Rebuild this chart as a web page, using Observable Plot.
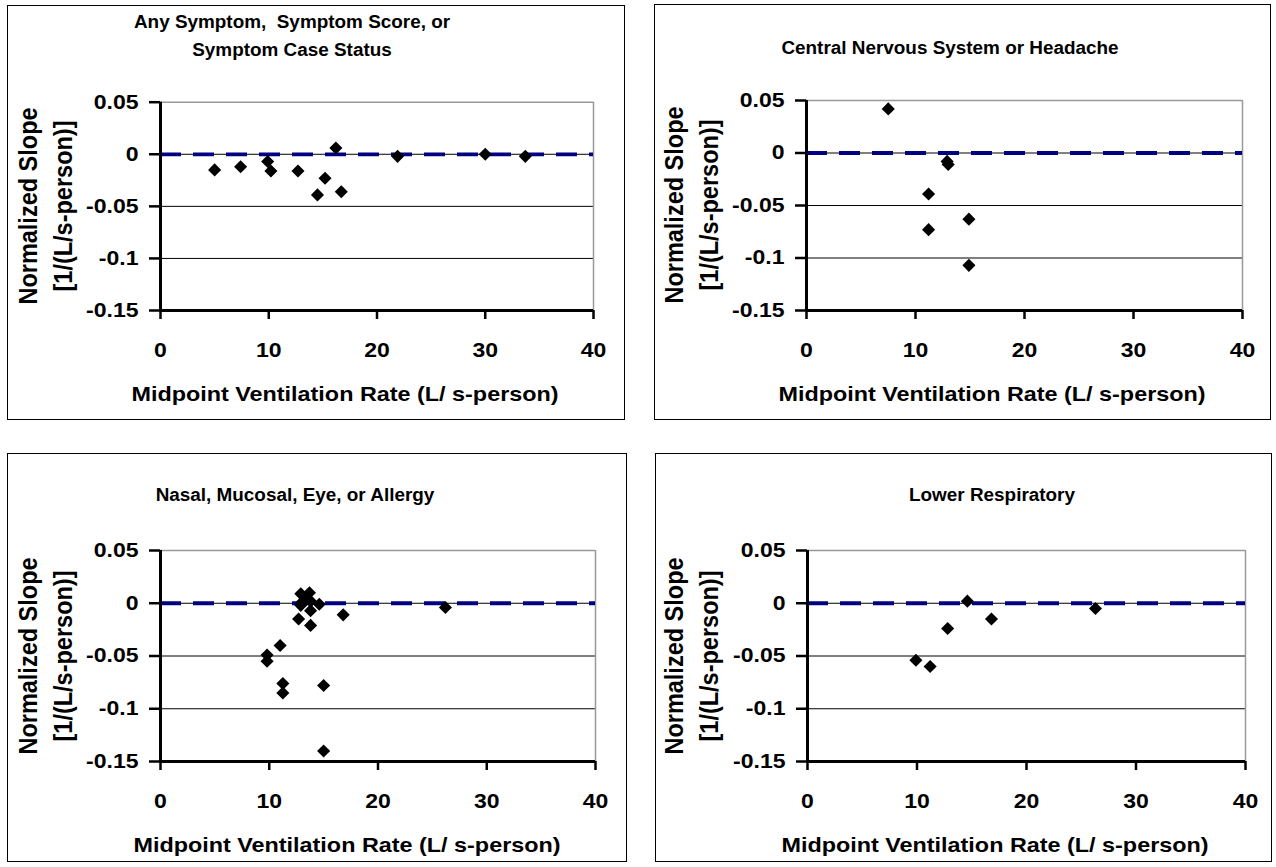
<!DOCTYPE html>
<html><head><meta charset="utf-8">
<script src="https://cdn.jsdelivr.net/npm/d3@7"></script>
<script src="https://cdn.jsdelivr.net/npm/@observablehq/plot@0.6"></script>
<style>
body{margin:0;background:#fff;font-family:Arial,"Liberation Sans",sans-serif;}
#root{position:relative;width:1276px;height:867px;overflow:hidden;background:#fff;}
.box{position:absolute;border:1px solid #000;box-sizing:border-box;}
.title{position:absolute;font-weight:bold;font-size:18px;text-align:center;white-space:pre;transform:translateX(-50%) scaleX(1.05);line-height:28px;color:#000;}
.xlab{position:absolute;font-weight:bold;font-size:20.5px;white-space:pre;transform:translateX(-50%) scaleX(1.14);line-height:24px;color:#000;}
.ylab{position:absolute;font-weight:bold;font-size:23.5px;white-space:pre;text-align:center;transform:translate(-50%,-50%) rotate(-90deg) scaleY(1.1);line-height:32px;color:#000;}
svg.plot{position:absolute;overflow:visible;}
svg.plot g[aria-label="x-axis tick"] path, svg.plot g[aria-label="y-axis tick"] path,
svg.plot g[aria-label="x-axis"] line, svg.plot g[aria-label="y-axis"] line{stroke-width:2.5px;stroke:#000;}
</style>
</head><body><div id="root"></div>
<script>
// ---- data ----
const panelTitles = ["Any Symptom,  Symptom Score, or\nSymptom Case Status", "Central Nervous System or Headache", "Nasal, Mucosal, Eye, or Allergy", "Lower Respiratory"];
const xLabel = "Midpoint Ventilation Rate (L/ s-person)";
const yLabelLines = ["Normalized Slope", "[1/(L/s-person)]"];
const xTicks = [0, 10, 20, 30, 40];
const yTicks = [0.05, 0, -0.05, -0.1, -0.15];
const gridY = [0, -0.05, -0.1];
const refLine = [0];

const anyX = [5.0, 7.4, 9.9, 10.2, 12.7, 14.5, 15.2, 16.2, 16.7, 21.9, 30.0, 33.7];
const anyY = [-0.015, -0.012, -0.007, -0.016, -0.016, -0.039, -0.023, 0.006, -0.036, -0.002, 0.000, -0.002];

const cnsX = [7.5, 11.2, 11.2, 12.9, 13.0, 14.9, 14.9];
const cnsY = [0.042, -0.039, -0.073, -0.008, -0.011, -0.063, -0.107];

const nasalX = [9.8, 9.8, 11.0, 11.25, 11.25, 12.7, 12.9, 12.9, 13.0, 13.3, 13.7, 13.8, 13.8, 13.8, 14.6, 15.0, 15.0, 16.8, 26.2];
const nasalY = [-0.049, -0.055, -0.040, -0.076, -0.085, -0.015, 0.009, -0.002, 0.001, 0.005, 0.010, 0.002, -0.007, -0.021, -0.001, -0.078, -0.140, -0.011, -0.004];

const lowerX = [9.9, 11.2, 12.8, 14.6, 16.8, 26.3];
const lowerY = [-0.054, -0.060, -0.024, 0.002, -0.015, -0.005];

// ---- layout (page coordinates) ----
const panels = [
  {xs: anyX, ys: anyY, title: panelTitles[0], box: [7, 5, 625, 420], area: [160, 101.7, 593, 310], titleX: 292, titleY: 8, xlabX: 345, xlabY: 382, ylabX: [30, 62]},
  {xs: cnsX, ys: cnsY, title: panelTitles[1], box: [654, 4, 1271, 420], area: [806, 100, 1242, 310], titleX: 950, titleY: 34, xlabX: 992, xlabY: 382, ylabX: [676, 707]},
  {xs: nasalX, ys: nasalY, title: panelTitles[2], box: [7, 453, 627, 862], area: [160, 550, 595, 761], titleX: 295, titleY: 481, xlabX: 347, xlabY: 833, ylabX: [30, 62]},
  {xs: lowerX, ys: lowerY, title: panelTitles[3], box: [655, 453, 1272, 862], area: [807, 550, 1245, 761], titleX: 992, titleY: 481, xlabX: 995, xlabY: 833, ylabX: [676, 707]}
];

const root = document.getElementById("root");
const tickStretch = 1.15;

function stretchTexts(svg) {
  svg.querySelectorAll("text").forEach(el => {
    const x = +(el.getAttribute("x") || 0);
    const prev = el.getAttribute("transform") || "";
    el.setAttribute("transform", `${prev} translate(${x},0) scale(${tickStretch},1) translate(${-x},0)`.trim());
  });
}

for (const p of panels) {
  const [bl, bt, br, bb] = p.box;
  const [al, at, ar, ab] = p.area;
  const box = document.createElement("div");
  box.className = "box";
  Object.assign(box.style, {left: bl + "px", top: bt + "px", width: (br - bl) + "px", height: (bb - bt) + "px"});
  root.appendChild(box);

  const data = p.xs.map((x, i) => ({x, y: p.ys[i]}));
  const W = br - bl, H = bb - bt;
  const svg = Plot.plot({
    width: W, height: H,
    marginLeft: al - bl, marginRight: br - ar, marginTop: at - bt, marginBottom: bb - ab,
    style: {fontFamily: "Arial, 'Liberation Sans', sans-serif", fontSize: "20px", fontWeight: "bold", color: "#000", background: "transparent", overflow: "visible"},
    x: {domain: [0, 40], ticks: xTicks, tickSize: 9, tickPadding: 23, label: null, tickFormat: d => String(d)},
    y: {domain: [-0.15, 0.05], ticks: yTicks, tickSize: 11, tickPadding: 11, label: null, tickFormat: d => String(d)},
    marks: [
      Plot.ruleY(gridY, {stroke: "#000", strokeWidth: 1}),
      Plot.ruleY([yTicks[0]], {stroke: "#999", strokeWidth: 1.5}),
      Plot.ruleX([xTicks[xTicks.length - 1]], {stroke: "#999", strokeWidth: 1.5}),
      Plot.ruleY(refLine, {stroke: "#000080", strokeWidth: 3.8, strokeDasharray: "21,12"}),
      Plot.dot(data, {x: "x", y: "y", symbol: "diamond2", r: 5.9, fill: "#000", stroke: "none"}),
      Plot.ruleX([xTicks[0]], {stroke: "#000", strokeWidth: 3}),
      Plot.ruleY([yTicks[yTicks.length - 1]], {stroke: "#000", strokeWidth: 3})
    ]
  });
  svg.classList.add("plot");
  stretchTexts(svg);
  Object.assign(svg.style, {left: bl + "px", top: bt + "px"});
  root.appendChild(svg);

  const t = document.createElement("div");
  t.className = "title";
  t.textContent = p.title;
  Object.assign(t.style, {left: p.titleX + "px", top: p.titleY + "px"});
  root.appendChild(t);

  const xl = document.createElement("div");
  xl.className = "xlab";
  xl.textContent = xLabel;
  Object.assign(xl.style, {left: p.xlabX + "px", top: p.xlabY + "px"});
  root.appendChild(xl);

  const yl = document.createElement("div");
  yl.className = "ylab";
  yl.textContent = yLabelLines.join("\n");
  Object.assign(yl.style, {left: ((p.ylabX[0] + p.ylabX[1]) / 2) + "px", top: ((at + ab) / 2) + "px"});
  root.appendChild(yl);
}
</script>
</body></html>
